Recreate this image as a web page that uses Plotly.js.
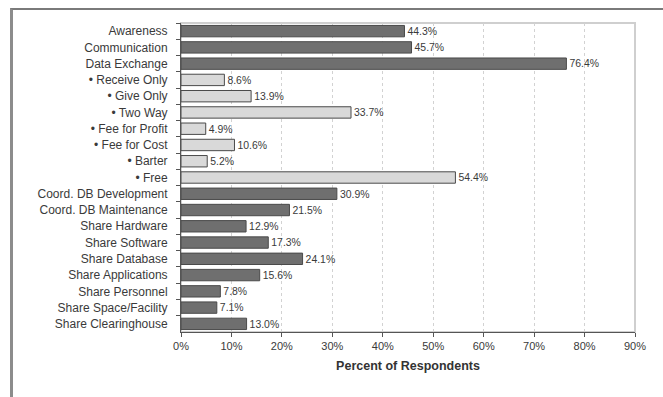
<!DOCTYPE html>
<html>
<head>
<meta charset="utf-8">
<script src="https://cdn.plot.ly/plotly-3.0.1.min.js"></script>
<style>
  html, body { margin: 0; padding: 0; background: #ffffff; }
  #wrap { position: relative; width: 663px; height: 397px; }
  #chart { position: absolute; left: 0; top: 0; width: 663px; height: 397px; }
  #frame {
    position: absolute; left: 10px; top: 8px; width: 653px; height: 387px;
    border-top: 2px solid #7a7a7a; border-left: 3px solid #8c8c8c;
    border-bottom: 1px solid #e2e2e2; pointer-events: none;
  }
</style>
</head>
<body>
<div id="wrap">
  <div id="chart"></div>
  <div id="frame"></div>
</div>
<script>
// Collaboration activities reported by respondents
const categories = [
  "Awareness", "Communication", "Data Exchange",
  "• Receive Only", "• Give Only", "• Two Way",
  "• Fee for Profit", "• Fee for Cost", "• Barter", "• Free",
  "Coord. DB Development", "Coord. DB Maintenance",
  "Share Hardware", "Share Software", "Share Database",
  "Share Applications", "Share Personnel", "Share Space/Facility",
  "Share Clearinghouse"
];
const percentValues = [
  44.3, 45.7, 76.4,
  8.6, 13.9, 33.7,
  4.9, 10.6, 5.2, 54.4,
  30.9, 21.5,
  12.9, 17.3, 24.1,
  15.6, 7.8, 7.1,
  13.0
];
// Data-exchange sub-items are drawn in the lighter shade
const isSubItem = categories.map(c => c.startsWith("•"));
const tickValues = [0, 10, 20, 30, 40, 50, 60, 70, 80, 90];
const tickLabels = tickValues.map(v => v + "%");

const darkFill = "#6f6f6f", lightFill = "#d9d9d9", edge = "#4a4a4a";

const trace = {
  type: "bar",
  orientation: "h",
  y: categories,
  x: percentValues,
  width: 0.7,
  marker: {
    color: isSubItem.map(s => s ? lightFill : darkFill),
    line: { color: edge, width: 1 }
  },
  texttemplate: "%{x:.1f}%",
  textposition: "outside",
  textfont: { family: "Liberation Sans, Arial, sans-serif", size: 11, color: "#3a3a3a" },
  cliponaxis: false,
  hoverinfo: "skip"
};

const layout = {
  width: 663, height: 397,
  margin: { l: 181, r: 28, t: 23, b: 65 },
  paper_bgcolor: "rgba(0,0,0,0)",
  plot_bgcolor: "#ffffff",
  showlegend: false,
  bargap: 0.3,
  font: { family: "Liberation Sans, Arial, sans-serif", size: 12, color: "#3a3a3a" },
  xaxis: {
    range: [0, 90],
    tickvals: tickValues,
    ticktext: tickLabels,
    tickfont: { size: 11, color: "#3a3a3a" },
    ticks: "outside", ticklen: 4, tickcolor: "#555555",
    showline: true, linecolor: "#555555", linewidth: 1,
    showgrid: true, gridcolor: "#d2d2d2", griddash: "dot", gridwidth: 1,
    zeroline: false,
    title: { text: "<b>Percent of Respondents</b>", font: { size: 12.5, color: "#333333" }, standoff: 10 }
  },
  yaxis: {
    type: "category",
    autorange: "reversed",
    tickson: "boundaries",
    ticks: "outside", ticklen: 4, tickcolor: "#555555",
    ticklabelstandoff: 10,
    showline: true, linecolor: "#555555", linewidth: 1,
    showgrid: false, zeroline: false,
    tickfont: { size: 12, color: "#3a3a3a" }
  },
  shapes: [{
    type: "rect", xref: "paper", yref: "paper",
    x0: 0, x1: 1, y0: 0, y1: 1,
    line: { color: "#cfcfcf", width: 2 },
    layer: "below"
  }]
};

Plotly.newPlot("chart", [trace], layout, { staticPlot: true, displayModeBar: false });
</script>
</body>
</html>
